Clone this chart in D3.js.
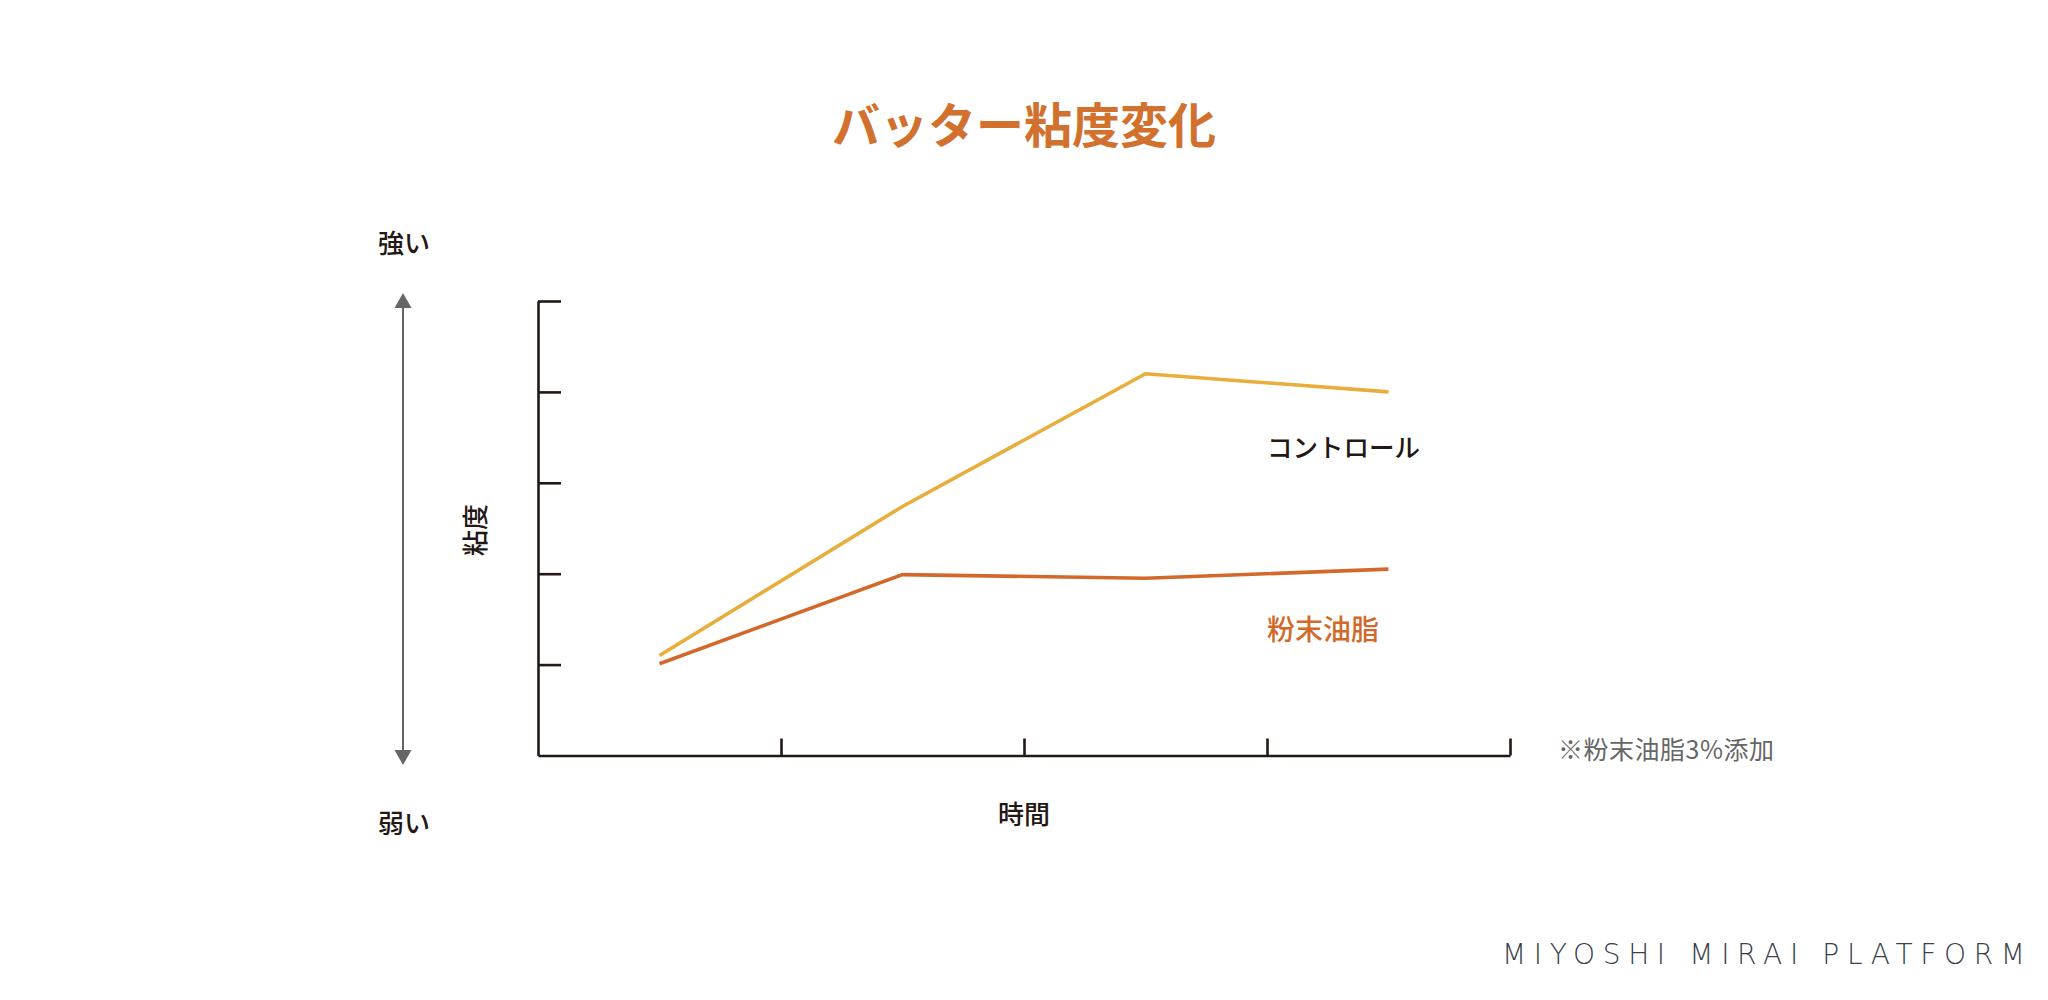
<!DOCTYPE html>
<html lang="ja">
<head>
<meta charset="utf-8">
<script src="https://cdn.jsdelivr.net/npm/d3@7"></script>
<style>
  html, body { margin: 0; padding: 0; background: #ffffff; }
  svg { display: block; }
  text { font-family: "Noto Sans CJK JP", "Noto Sans", sans-serif; }
  text.brand { font-family: "DejaVu Sans", sans-serif; }
</style>
</head>
<body>
<svg id="chart" width="2048" height="1000"></svg>
<script>
// ---- data ----
const timePoints = [0.5, 1.5, 2.5, 3.5];
const controlValues = [1.1, 2.74, 4.2, 4.0];
const powderFatValues = [1.01, 1.99, 1.95, 2.05];
const seriesNames = ["コントロール", "粉末油脂"];
const yTickValues = [1, 2, 3, 4, 5];
const xTickValues = [1, 2, 3, 4];
const titleText = "バッター粘度変化";
const yAxisLabel = "粘度";
const xAxisLabel = "時間";
const strongLabel = "強い";
const weakLabel = "弱い";
const noteText = "※粉末油脂3%添加";
const brandText = "MIYOSHI MIRAI PLATFORM";

// ---- layout ----
const svg = d3.select("#chart");
const x = d3.scaleLinear().domain([0, 4]).range([538, 1510]);
const y = d3.scaleLinear().domain([0, 5]).range([755.5, 301]);

const axisColor = "#231815";
const controlColor = "#E8AD3A";
const powderColor = "#D2692B";

// title
svg.append("text")
  .attr("x", 1024).attr("y", 122)
  .attr("text-anchor", "middle").attr("dominant-baseline", "central")
  .attr("font-size", 48).attr("font-weight", 700)
  .attr("fill", "#D2702E")
  .text(titleText);

// y axis
const yAxis = d3.axisRight(y).tickValues(yTickValues).tickSize(23).tickSizeOuter(0).tickFormat("");
const gy = svg.append("g").attr("transform", `translate(${x(0)},0)`).call(yAxis);
gy.selectAll("path, line").attr("stroke", axisColor).attr("stroke-width", 2.6);

// x axis
const xAxis = d3.axisTop(x).tickValues(xTickValues).tickSize(17).tickSizeOuter(0).tickFormat("");
const gx = svg.append("g").attr("transform", `translate(0,${y(0)})`).call(xAxis);
gx.selectAll("path, line").attr("stroke", axisColor).attr("stroke-width", 2.6);

// lines
const line = d3.line().x((d, i) => x(timePoints[i])).y(d => y(d));
svg.append("path").datum(controlValues)
  .attr("d", line).attr("fill", "none")
  .attr("stroke", controlColor).attr("stroke-width", 3.6)
  .attr("stroke-linejoin", "miter");
svg.append("path").datum(powderFatValues)
  .attr("d", line).attr("fill", "none")
  .attr("stroke", powderColor).attr("stroke-width", 3.6)
  .attr("stroke-linejoin", "miter");

// series labels
svg.append("text")
  .attr("x", 1267).attr("y", 445)
  .attr("dominant-baseline", "central")
  .attr("font-size", 25.5).attr("font-weight", 500)
  .attr("fill", axisColor)
  .text(seriesNames[0]);
svg.append("text")
  .attr("x", 1267).attr("y", 628)
  .attr("dominant-baseline", "central")
  .attr("font-size", 28).attr("font-weight", 500)
  .attr("fill", powderColor)
  .text(seriesNames[1]);

// note
svg.append("text")
  .attr("x", 1558).attr("y", 748)
  .attr("dominant-baseline", "central")
  .attr("font-size", 25).attr("font-weight", 400)
  .attr("fill", "#666666")
  .attr("textLength", 216).attr("lengthAdjust", "spacing")
  .text(noteText);

// x axis label
svg.append("text")
  .attr("x", 1024).attr("y", 812)
  .attr("text-anchor", "middle").attr("dominant-baseline", "central")
  .attr("font-size", 26).attr("font-weight", 500)
  .attr("fill", axisColor)
  .text(xAxisLabel);

// y axis label (rotated)
svg.append("text")
  .attr("transform", "translate(473,530) rotate(-90)")
  .attr("text-anchor", "middle").attr("dominant-baseline", "central")
  .attr("font-size", 26).attr("font-weight", 500)
  .attr("fill", axisColor)
  .text(yAxisLabel);

// strong / weak arrow
const arrowX = 403, arrowTop = 293, arrowBottom = 765;
const arrowColor = "#666666";
svg.append("line")
  .attr("x1", arrowX).attr("x2", arrowX)
  .attr("y1", arrowTop + 10).attr("y2", arrowBottom - 10)
  .attr("stroke", arrowColor).attr("stroke-width", 2);
svg.append("path")
  .attr("d", `M${arrowX},${arrowTop} L${arrowX - 8.5},${arrowTop + 15} L${arrowX + 8.5},${arrowTop + 15} Z`)
  .attr("fill", arrowColor);
svg.append("path")
  .attr("d", `M${arrowX},${arrowBottom} L${arrowX - 8.5},${arrowBottom - 15} L${arrowX + 8.5},${arrowBottom - 15} Z`)
  .attr("fill", arrowColor);

svg.append("text")
  .attr("x", 404).attr("y", 241)
  .attr("text-anchor", "middle").attr("dominant-baseline", "central")
  .attr("font-size", 26).attr("font-weight", 500)
  .attr("fill", axisColor)
  .text(strongLabel);
svg.append("text")
  .attr("x", 404).attr("y", 821)
  .attr("text-anchor", "middle").attr("dominant-baseline", "central")
  .attr("font-size", 26).attr("font-weight", 500)
  .attr("fill", axisColor)
  .text(weakLabel);

// brand
svg.append("text")
  .attr("class", "brand")
  .attr("x", 1502).attr("y", 954)
  .attr("dominant-baseline", "central")
  .attr("font-size", 28).attr("font-weight", 200)
  .attr("fill", "#3a4149")
  .attr("textLength", 523).attr("lengthAdjust", "spacing")
  .text(brandText);
</script>
</body>
</html>
